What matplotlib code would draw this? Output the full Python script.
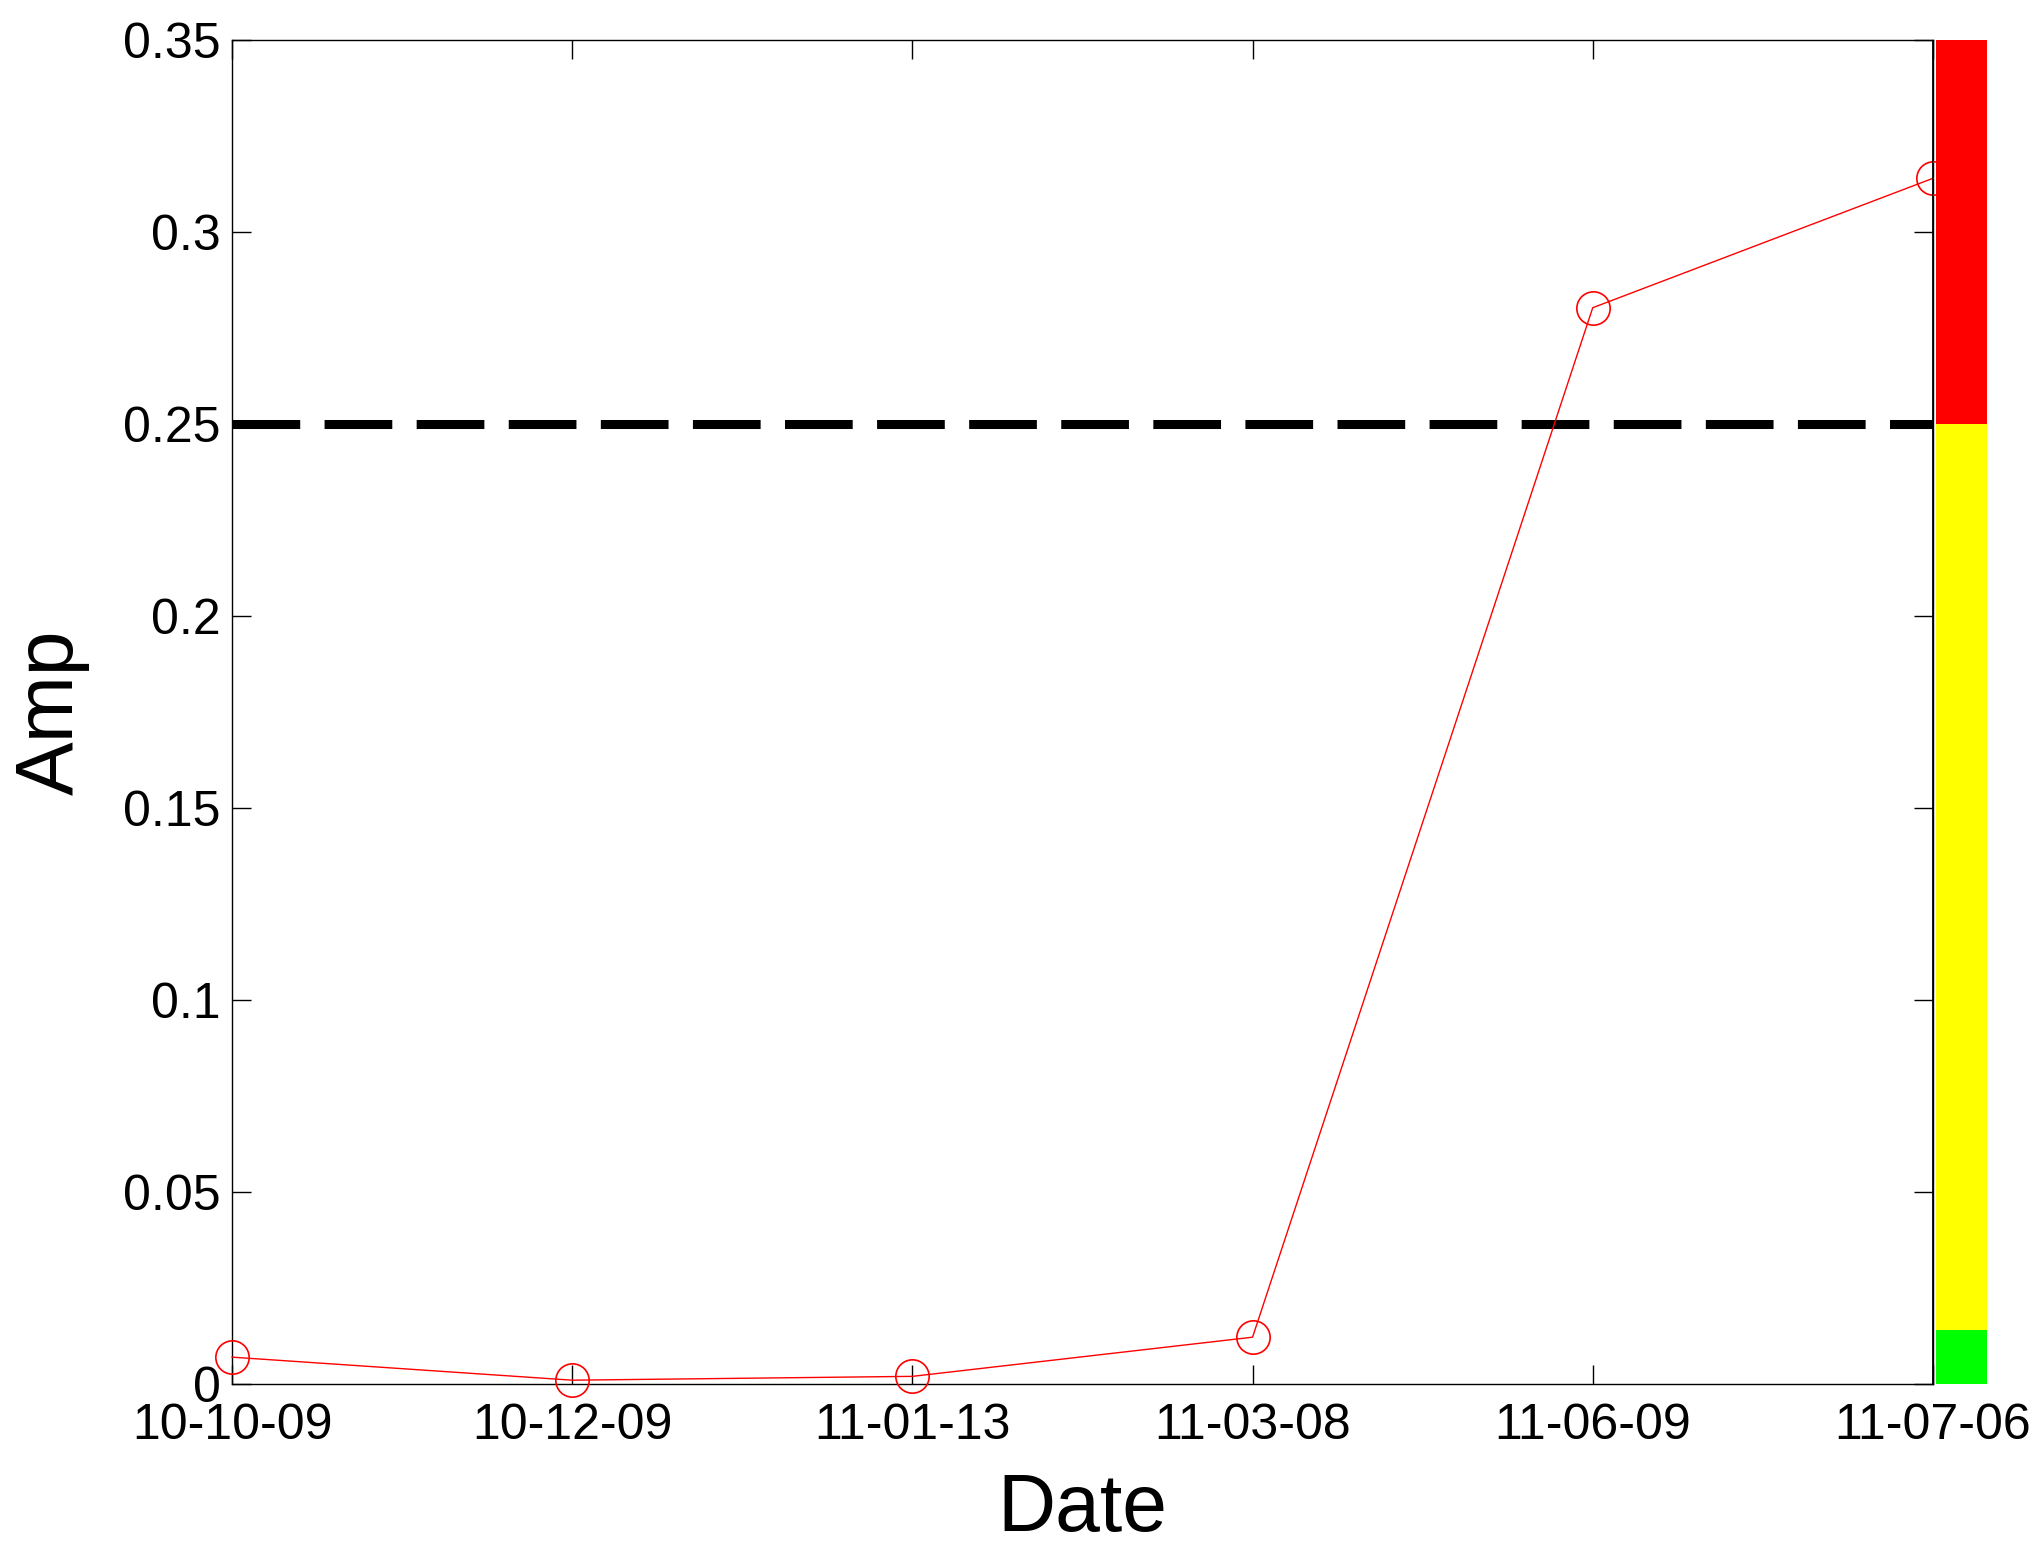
import matplotlib
matplotlib.use("Agg")
import matplotlib.pyplot as plt

plt.rcParams['font.family'] = ['Liberation Sans', 'DejaVu Sans']

dates = ['10-10-09', '10-12-09', '11-01-13', '11-03-08', '11-06-09', '11-07-06']
amp = [0.0070, 0.0010, 0.0020, 0.0122, 0.2803, 0.3140]
threshold = 0.25

# status bar on the right: (bottom, top, colour)
band_bottom = [0.0, 0.014, 0.25]
band_top = [0.014, 0.25, 0.35]
band_color = ['#00ff00', '#ffff00', '#ff0000']

fig = plt.figure(figsize=(20.37, 15.6), dpi=100)
ax = fig.add_axes([0.1139, 0.1128, 0.8350, 0.8615])

x = list(range(len(dates)))
ax.plot(x, amp, color='red', lw=1.0, marker='o', markersize=24,
        markerfacecolor='none', markeredgecolor='red', markeredgewidth=1.2,
        clip_on=False, zorder=3)
hl, = ax.plot([x[0], x[-1]], [threshold, threshold], color='black', lw=6.5,
              zorder=2)
hl.set_dashes((7.5, 2.7))
ax.axvline(x[-1], color='black', lw=2.0, zorder=4)

ax.set_xlim(x[0], x[-1])
ax.set_ylim(0, 0.35)
ax.set_xticks(x)
ax.set_xticklabels(dates)
ax.set_yticks([0, 0.05, 0.1, 0.15, 0.2, 0.25, 0.3, 0.35])
ax.set_yticklabels(['0', '0.05', '0.1', '0.15', '0.2', '0.25', '0.3', '0.35'])
ax.tick_params(direction='in', length=14, width=1.0, labelsize=36,
               top=True, right=True)
ax.tick_params(axis='y', pad=8)
ax.tick_params(axis='x', pad=14)
for s in ax.spines.values():
    s.set_linewidth(1.0)
ax.set_xlabel('Date', fontsize=58, labelpad=16)
ax.set_ylabel('Amp', fontsize=58, labelpad=24)

cb = fig.add_axes([0.9504, 0.1128, 0.0250, 0.8615])
cb.bar([0] * len(band_color),
       [t - b for b, t in zip(band_bottom, band_top)],
       bottom=band_bottom, width=1.0, color=band_color)
cb.set_xlim(-0.5, 0.5)
cb.set_ylim(0, 0.35)
cb.axis('off')

fig.savefig('out.png', dpi=100)
